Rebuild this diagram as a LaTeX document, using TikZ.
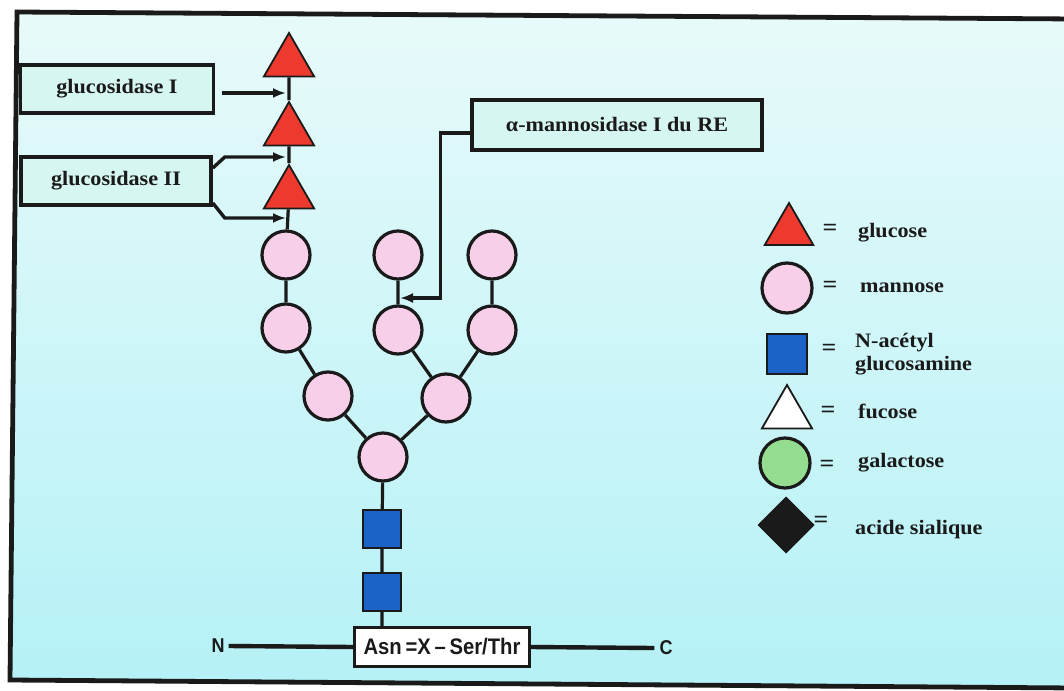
\documentclass[tikz,border=0pt]{standalone}
\usepackage{fontspec}
\setmainfont{Liberation Serif}[FakeStretch=1.08]
\newfontfamily\asnfont{Liberation Sans}[FakeStretch=0.9]
\usetikzlibrary{shapes.geometric,arrows.meta}
\definecolor{bgtop}{HTML}{E8FAFA}
\definecolor{bgbot}{HTML}{B4F1F6}
\definecolor{boxfill}{HTML}{D6F6F2}
\definecolor{glcred}{HTML}{EE3A2E}
\definecolor{manpink}{HTML}{F7CFE9}
\definecolor{nagblue}{HTML}{1B63C6}
\definecolor{galgreen}{HTML}{94DC90}
\definecolor{ink}{HTML}{1A1A1A}
\begin{document}
\begin{tikzpicture}[x=1pt,y=-1pt,
  txt/.style={font=\fontsize{20.5}{24}\selectfont\bfseries, text=ink, inner sep=0pt},
  enz/.style={draw=ink, line width=3.6pt, fill=boxfill, inner sep=0pt, txt},
  tri/.style={regular polygon, regular polygon sides=3, minimum size=58pt, inner sep=0pt, draw=ink, line width=1.8pt, fill=glcred},
  man/.style={circle, minimum size=48pt, inner sep=0pt, draw=ink, line width=3.2pt, fill=manpink},
  nag/.style={rectangle, minimum size=38pt, inner sep=0pt, draw=ink, line width=1.8pt, fill=nagblue},
  bond/.style={draw=ink, line width=3.2pt},
  arr/.style={draw=ink, line width=3.4pt, -{Latex[length=13pt,width=10pt]}},
  eq/.style={font=\fontsize{24}{26}\selectfont\bfseries, text=ink, inner sep=0pt},
  lab/.style={txt, anchor=west, align=left}
]
\useasboundingbox (0,0) rectangle (1064,690);
\fill[white] (0,0) rectangle (1064,690);
\shade[top color=bgtop, bottom color=bgbot] (17,12) -- (1075,19) -- (1075,688) -- (10,680) -- cycle;
\draw[draw=ink, line width=4.8pt] (1075,19) -- (17,12) -- (10,680) -- (1075,688);

% enzyme boxes
\node[enz, minimum width=193pt, minimum height=48pt] (g1) at (117,89) {glucosidase I};
\node[enz, minimum width=190pt, minimum height=48pt] (g2) at (116,181) {glucosidase II};
\node[enz, minimum width=290pt, minimum height=50pt] (mann) at (617,125) {α-mannosidase I du RE};

% glucose triangles
\node[tri] (t1) at (289,62) {};
\node[tri] (t2) at (289,131) {};
\node[tri] (t3) at (289,194) {};

% mannose circles
\node[man] (m1) at (286,255) {};
\node[man] (m2) at (286,328) {};
\node[man] (m3) at (398,255) {};
\node[man] (m4) at (398,330) {};
\node[man] (m5) at (492,255) {};
\node[man] (m6) at (492,330) {};
\node[man] (m7) at (328,396) {};
\node[man] (m8) at (446,398) {};
\node[man] (m9) at (383,457) {};

% GlcNAc squares
\node[nag] (s1) at (382,529) {};
\node[nag] (s2) at (382,592) {};

% peptide
\node[draw=ink, line width=2.6pt, fill=white, minimum width=175pt, minimum height=39pt, inner sep=0pt,
      font=\asnfont\fontsize{22.5}{25}\selectfont\bfseries, text=ink] (asn) at (442,647) {Asn\,=X\,–\,Ser/Thr};
\node[font=\asnfont\fontsize{20}{22}\selectfont\bfseries, text=ink, inner sep=0pt] (nterm) at (218,646) {N};
\node[font=\asnfont\fontsize{20}{22}\selectfont\bfseries, text=ink, inner sep=0pt] (cterm) at (666,648) {C};

% bonds
\path[bond] (t1) -- (t2) (t2) -- (t3) (t3) -- (m1) (m1) -- (m2) (m2) -- (m7) (m7) -- (m9)
  (m3) -- (m4) (m4) -- (m8) (m5) -- (m6) (m6) -- (m8) (m8) -- (m9) (m9) -- (s1) (s1) -- (s2)
  (s2.south) -- (s2.south |- asn.north);
\path[draw=ink, line width=4.4pt] ([xshift=4pt]nterm.east) -- (asn.west) (asn.east) -- ([xshift=-5pt]cterm.west);

% enzyme arrows
\coordinate (g1tip) at (286,93);
\coordinate (g2a) at (286,157);
\coordinate (g2b) at (286,218);
\coordinate (mtip) at (400,298);
\draw[arr] ([xshift=7pt,yshift=-4pt]g1.east) -- (g1tip);
\draw[arr] ([yshift=13pt]g2.east) -- ++(12,-11) -- (g2a);
\draw[arr] ([yshift=-22pt]g2.east) -- ++(12,15) -- (g2b);
\draw[arr] ([yshift=-8pt]mann.west) -- ++(-30,0) |- (mtip);

% legend
\node[tri, minimum size=56pt] (lt) at (789,231) {};
\node[man, minimum size=50pt] (lc) at (787,288) {};
\node[nag, minimum size=40pt] (ls) at (787,354) {};
\node[tri, minimum size=58pt, fill=white] (lf) at (787,414) {};
\node[man, minimum size=50pt, fill=galgreen] (lg) at (785,463) {};
\node[diamond, aspect=1, minimum size=56pt, inner sep=0pt, draw=ink, line width=1pt, fill=ink] (ld) at (786,525) {};

\node[eq] (e1) at (830,230) {=};
\node[eq] (e2) at (830,287) {=};
\node[eq] (e3) at (829,350) {=};
\node[eq] (e4) at (828,412) {=};
\node[eq] (e5) at (827,466) {=};
\node[eq] (e6) at (821,522) {=};

\node[lab] (l1) at (858,233) {glucose};
\node[lab] (l2) at (860,288) {mannose};
\node[lab] (l3) at (855,354) {N-acétyl\\[-1pt]glucosamine};
\node[lab] (l4) at (858,411) {fucose};
\node[lab] (l5) at (858,463) {galactose};
\node[lab] (l6) at (855,530) {acide sialique};
\end{tikzpicture}
\end{document}
